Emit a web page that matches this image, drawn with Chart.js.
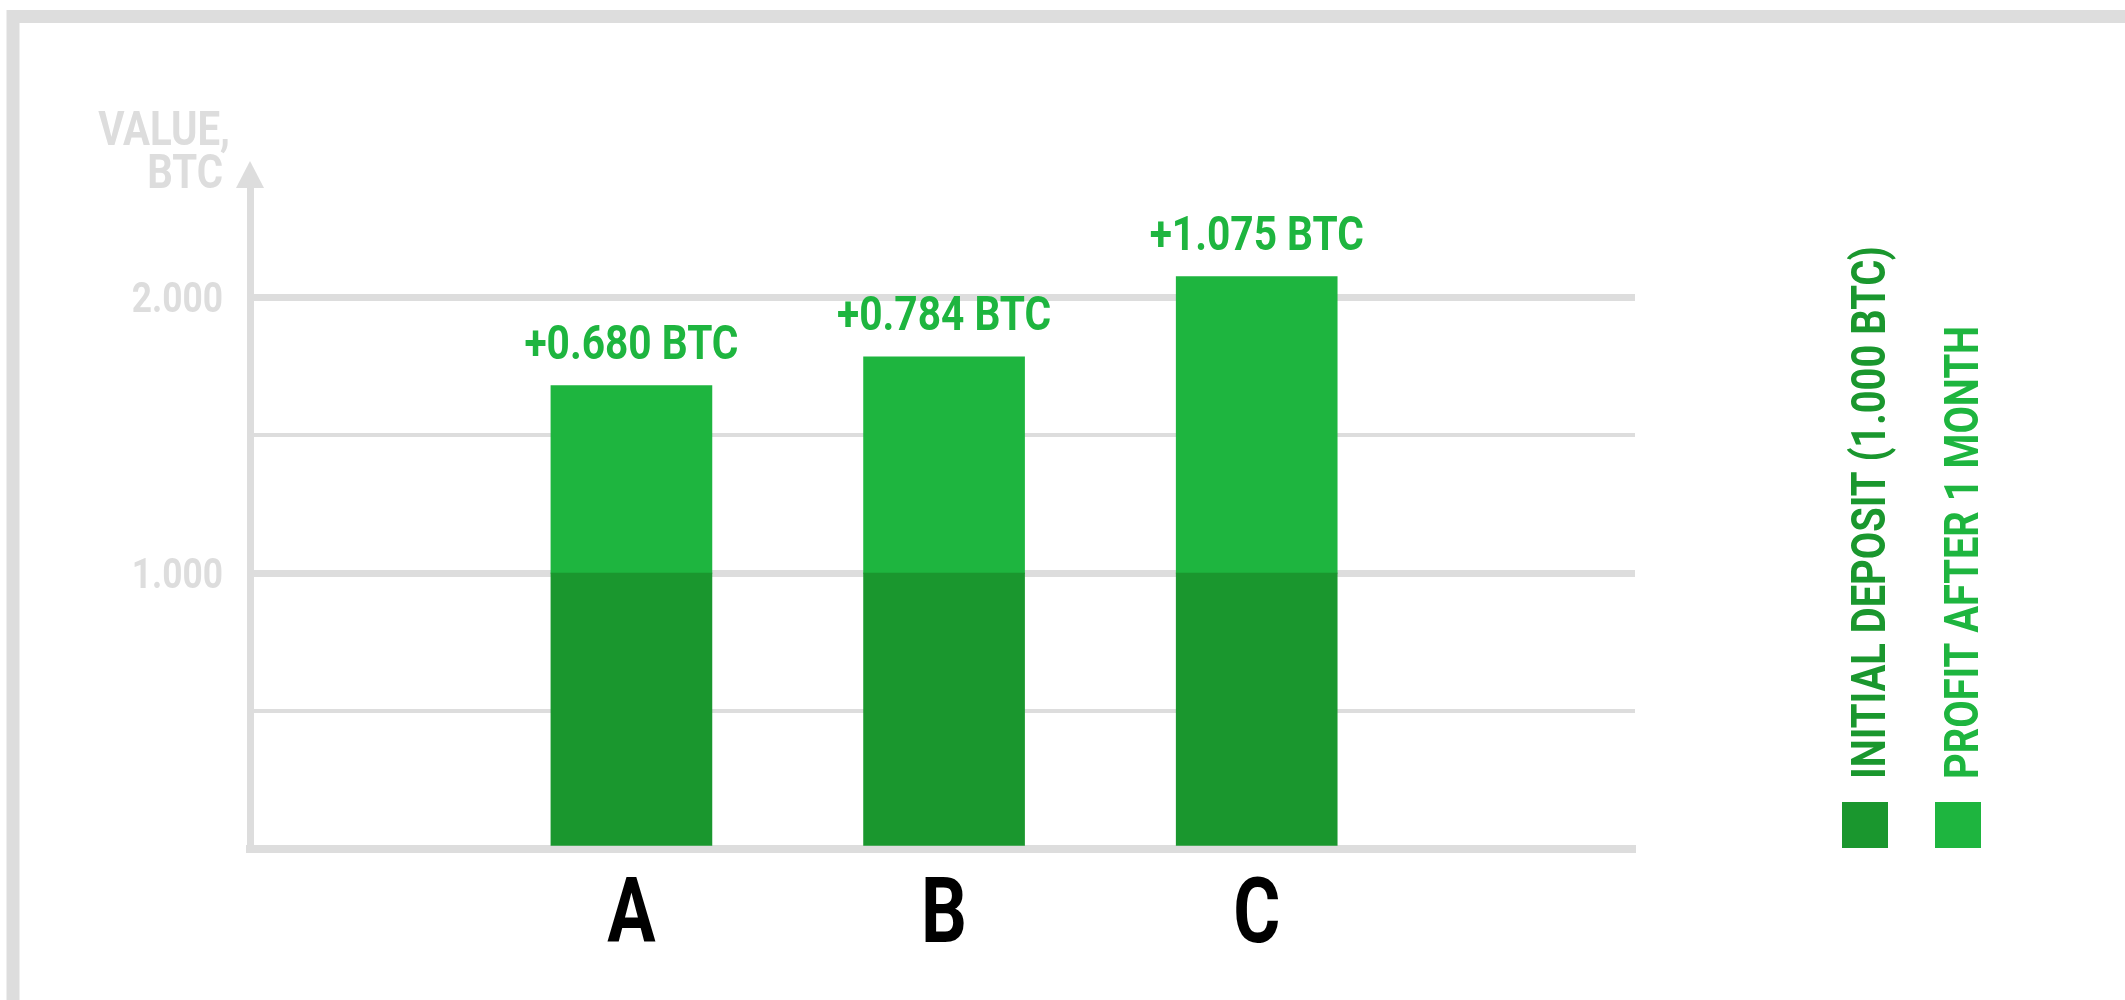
<!DOCTYPE html>
<html>
<head>
<meta charset="utf-8">
<script src="https://cdn.jsdelivr.net/npm/chart.js@4.4.1/dist/chart.umd.min.js"></script>
<style>
html, body { margin: 0; padding: 0; background: #fff; }
canvas { display: block; }
</style>
</head>
<body>
<canvas id="myBarChart" width="2125" height="1000"></canvas>
<script>
var categories = ['A', 'B', 'C'];
var deposit = [1.000, 1.000, 1.000];
var profit = [0.680, 0.784, 1.075];
var yTicks = [0, 0.5, 1, 1.5, 2];
var axisTitle = ['VALUE,', 'BTC'];
var legendLabels = ['INITIAL DEPOSIT (1.000 BTC)', 'PROFIT AFTER 1 MONTH'];

var darkGreen = '#1a972e';
var lightGreen = '#1eb53f';
var grey = '#dddddd';
var fontFamily = 'Roboto, "Open Sans", sans-serif';

// roboto is too wide, so squeeze text horizontally to look like a condensed face
function narrowText(ctx, text, x, y, size, color, align, sx) {
  ctx.save();
  ctx.font = 'bold ' + size + 'px ' + fontFamily;
  ctx.fillStyle = color;
  ctx.textBaseline = 'alphabetic';
  ctx.textAlign = 'left';
  var w = ctx.measureText(text).width * sx;
  var x0 = x;
  if (align == 'right') x0 = x - w;
  if (align == 'center') x0 = x - w / 2;
  ctx.translate(x0, y);
  ctx.scale(sx, 1);
  ctx.fillText(text, 0, 0);
  ctx.restore();
}

var extras = {
  id: 'extras',
  afterDraw: function(chart) {
    var ctx = chart.ctx;
    var xs = chart.scales.x;
    var ys = chart.scales.y;
    var left = chart.chartArea.left;
    var top = chart.chartArea.top;
    var base = ys.getPixelForValue(0);

    // frame
    ctx.save();
    ctx.strokeStyle = grey;
    ctx.lineWidth = 13;
    ctx.strokeRect(13, 16.5, 2200, 990);
    ctx.restore();

    // arrow on y axis
    ctx.save();
    ctx.fillStyle = grey;
    ctx.beginPath();
    ctx.moveTo(left, top - 26);
    ctx.lineTo(left - 14, top + 1);
    ctx.lineTo(left + 14, top + 1);
    ctx.closePath();
    ctx.fill();
    ctx.restore();

    // axis title
    narrowText(ctx, axisTitle[0], left - 20, top - 42, 49, grey, 'right', 0.82);
    narrowText(ctx, axisTitle[1], left - 27, top + 1, 49, grey, 'right', 0.82);

    // y tick labels
    yTicks.forEach(function(v) {
      if (v > 0 && v % 1 == 0) {
        narrowText(ctx, v.toFixed(3), left - 27, ys.getPixelForValue(v) + 15, 42, grey, 'right', 0.84);
      }
    });

    // category labels
    categories.forEach(function(c, i) {
      narrowText(ctx, c, xs.getPixelForValue(i + 1), base + 93, 90, '#000000', 'center', 0.8);
    });

    // value labels above bars
    var meta = chart.getDatasetMeta(1);
    meta.data.forEach(function(bar, i) {
      narrowText(ctx, '+' + profit[i].toFixed(3) + ' BTC', bar.x, bar.y - 27, 49, lightGreen, 'center', 0.83);
    });

    // legend, vertical text over a square
    var legendX = [1842, 1935];
    var legendColors = [darkGreen, lightGreen];
    legendLabels.forEach(function(t, i) {
      ctx.fillStyle = legendColors[i];
      ctx.fillRect(legendX[i], base - 47, 46, 46);
      ctx.save();
      ctx.translate(legendX[i] + 43, base - 70);
      ctx.rotate(-Math.PI / 2);
      narrowText(ctx, t, 0, 0, 48, legendColors[i], 'left', 0.83);
      ctx.restore();
    });
  }
};

var ctx = document.getElementById('myBarChart').getContext('2d');
var myBarChart = new Chart(ctx, {
  type: 'bar',
  data: {
    datasets: [{
      label: legendLabels[0],
      data: deposit.map(function(v, i) { return { x: i + 1, y: v }; }),
      backgroundColor: darkGreen,
      barThickness: 161
    },
    {
      label: legendLabels[1],
      data: profit.map(function(v, i) { return { x: i + 1, y: v }; }),
      backgroundColor: lightGreen,
      barThickness: 161
    }]
  },
  options: {
    responsive: false,
    animation: false,
    layout: { padding: { left: 250, right: 490, top: 187, bottom: 151 } },
    plugins: { legend: { display: false }, tooltip: { enabled: false } },
    scales: {
      x: {
        type: 'linear',
        stacked: true,
        offset: false,
        min: -0.22,
        max: 4.21,
        ticks: { display: false },
        grid: { display: false, drawTicks: false },
        border: { color: grey, width: 8 },
        afterFit: function(s) { s.height = 0; }
      },
      y: {
        stacked: true,
        min: 0,
        max: 2.4,
        afterBuildTicks: function(s) {
          s.ticks = yTicks.map(function(v) { return { value: v }; });
        },
        ticks: { display: false },
        grid: {
          drawTicks: false,
          color: function(c) { return c.tick && c.tick.value > 0 ? grey : 'rgba(0,0,0,0)'; },
          lineWidth: function(c) { return c.tick && c.tick.value % 1 == 0 ? 7 : 4; }
        },
        border: { color: grey, width: 7 },
        afterFit: function(s) { s.width = 0; }
      }
    }
  },
  plugins: [extras]
});
</script>
</body>
</html>
